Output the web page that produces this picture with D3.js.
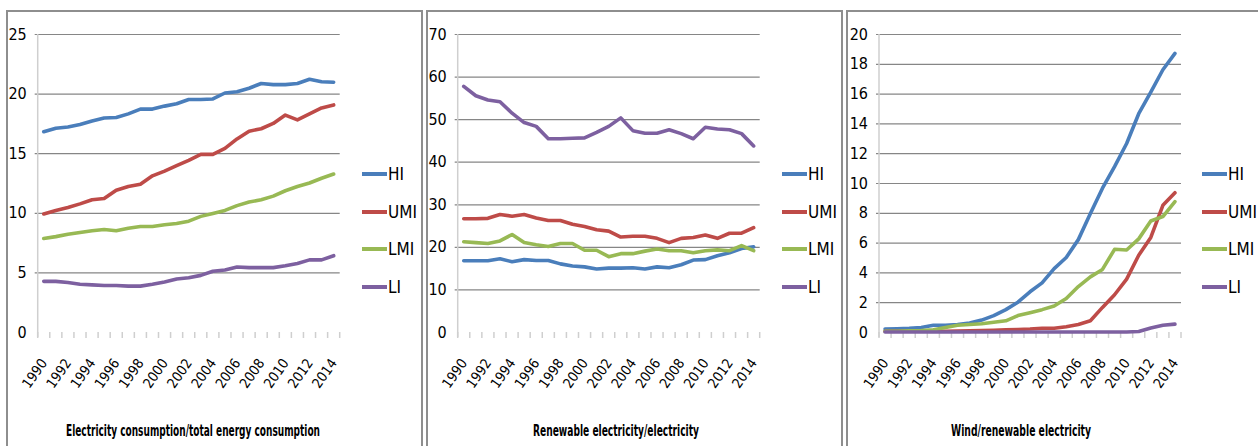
<!DOCTYPE html>
<html>
<head>
<meta charset="utf-8">
<script src="https://cdn.jsdelivr.net/npm/d3@7/dist/d3.min.js"></script>
<style>
  body { margin: 0; background: #fff; }
  svg { display: block; }
  text { font-family: "Liberation Sans Narrow", "Arial Narrow", "DejaVu Sans Condensed", sans-serif; fill: #000; }
  .frame { fill: none; stroke: #8e8e8e; stroke-width: 2; }
  .grid line { stroke: #868686; stroke-width: 1.2; }
  .yaxis-line { stroke: #cfcfcf; stroke-width: 1.5; }
  .xtick { stroke: #cfcfcf; stroke-width: 1.5; }
  .series { fill: none; stroke-width: 3.6; stroke-linejoin: round; stroke-linecap: round; }
  .title { font-weight: bold; font-size: 16px; }
</style>
</head>
<body>
<div id="chart"></div>
<script>
var years = [1990, 1991, 1992, 1993, 1994, 1995, 1996, 1997, 1998, 1999, 2000, 2001, 2002,
  2003, 2004, 2005, 2006, 2007, 2008, 2009, 2010, 2011, 2012, 2013, 2014]
var tickYears = [1990, 1992, 1994, 1996, 1998, 2000, 2002, 2004, 2006, 2008, 2010, 2012, 2014]
var groups = ['HI', 'UMI', 'LMI', 'LI']

// Electricity consumption / total energy consumption
var elecHI = [16.8, 17.1, 17.2, 17.4, 17.7, 17.95, 18.0, 18.3, 18.7, 18.7, 18.95, 19.15, 19.5,
  19.5, 19.55, 20.05, 20.15, 20.45, 20.85, 20.75, 20.75, 20.85, 21.2, 21.0, 20.95]
var elecUMI = [9.9, 10.2, 10.45, 10.75, 11.1, 11.2, 11.9, 12.2, 12.4, 13.1, 13.5, 13.95, 14.4,
  14.9, 14.9, 15.4, 16.2, 16.85, 17.05, 17.5, 18.2, 17.8, 18.3, 18.8, 19.05]
var elecLMI = [7.85, 8.0, 8.2, 8.35, 8.5, 8.6, 8.5, 8.7, 8.85, 8.85, 9.0, 9.1, 9.3,
  9.7, 9.95, 10.2, 10.6, 10.9, 11.1, 11.4, 11.85, 12.2, 12.5, 12.9, 13.25]
var elecLI = [4.25, 4.25, 4.15, 4.0, 3.95, 3.9, 3.9, 3.85, 3.85, 4.0, 4.2, 4.45, 4.55,
  4.75, 5.1, 5.2, 5.45, 5.4, 5.4, 5.4, 5.55, 5.75, 6.05, 6.05, 6.4]

// Renewable electricity / electricity
var renHI = [16.75, 16.75, 16.75, 17.2, 16.5, 17.0, 16.8, 16.8, 16.0, 15.5, 15.3, 14.8, 15.0,
  15.0, 15.1, 14.8, 15.3, 15.1, 15.8, 16.9, 17.0, 17.9, 18.6, 19.6, 20.0]
var renUMI = [26.6, 26.6, 26.7, 27.6, 27.2, 27.6, 26.8, 26.2, 26.2, 25.3, 24.8, 24.0, 23.7,
  22.3, 22.5, 22.5, 22.0, 21.0, 22.0, 22.2, 22.8, 22.0, 23.2, 23.2, 24.5]
var renLMI = [21.2, 21.0, 20.8, 21.4, 22.9, 21.0, 20.5, 20.1, 20.8, 20.8, 19.2, 19.2, 17.7,
  18.4, 18.4, 19.0, 19.5, 19.1, 19.1, 18.6, 19.1, 19.3, 19.1, 20.3, 19.1]
var renLI = [57.7, 55.5, 54.5, 54.1, 51.4, 49.2, 48.3, 45.4, 45.4, 45.5, 45.6, 46.9, 48.3,
  50.3, 47.3, 46.7, 46.7, 47.5, 46.6, 45.4, 48.1, 47.7, 47.5, 46.6, 43.7]

// Wind / renewable electricity
var windHI = [0.2, 0.22, 0.25, 0.3, 0.45, 0.45, 0.5, 0.6, 0.8, 1.1, 1.5, 2.0, 2.7,
  3.3, 4.25, 5.0, 6.2, 7.95, 9.65, 11.1, 12.65, 14.65, 16.1, 17.6, 18.7]
var windUMI = [0.05, 0.05, 0.05, 0.05, 0.05, 0.05, 0.06, 0.08, 0.1, 0.12, 0.15, 0.17, 0.2,
  0.25, 0.25, 0.35, 0.5, 0.75, 1.65, 2.5, 3.55, 5.15, 6.35, 8.5, 9.35]
var windLMI = [0.05, 0.05, 0.08, 0.1, 0.15, 0.3, 0.45, 0.5, 0.55, 0.65, 0.75, 1.1, 1.3,
  1.5, 1.75, 2.25, 3.05, 3.7, 4.2, 5.55, 5.5, 6.25, 7.45, 7.75, 8.75]
var windLI = [0, 0, 0, 0, 0, 0, 0, 0, 0, 0, 0, 0, 0,
  0, 0, 0, 0, 0, 0, 0, 0, 0.03, 0.27, 0.45, 0.53]

var elecTicks = [0, 5, 10, 15, 20, 25]
var renTicks = [0, 10, 20, 30, 40, 50, 60, 70]
var windTicks = [0, 2, 4, 6, 8, 10, 12, 14, 16, 18, 20]

var titles = ['Electricity consumption/total  energy consumption',
  'Renewable electricity/electricity', 'Wind/renewable electricity']

var colors = { HI: '#4a7ebb', UMI: '#be4b48', LMI: '#98b954', LI: '#7d60a0' }

var W = 1258, H = 446
var svg = d3.select('#chart').append('svg').attr('width', W).attr('height', H)

var panels = [
  { left: 7, axisX: 37.7, ticks: elecTicks, series: [elecHI, elecUMI, elecLMI, elecLI], title: titles[0], titleX: 193, titleW: 254 },
  { left: 427, axisX: 457.7, ticks: renTicks, series: [renHI, renUMI, renLMI, renLI], title: titles[1], titleX: 616, titleW: 166 },
  { left: 847, axisX: 879, ticks: windTicks, series: [windHI, windUMI, windLMI, windLI], title: titles[2], titleX: 1021, titleW: 140 }
]

var plotTop = 34, plotBottom = 332, plotW = 302

panels.forEach(drawPanel)

function drawPanel (p) {
  var g = svg.append('g')

  // panel frame
  g.append('rect')
    .attr('class', 'frame')
    .attr('x', p.left).attr('y', 11)
    .attr('width', 415).attr('height', H)

  var x = d3.scaleBand()
    .domain(years)
    .range([p.axisX, p.axisX + plotW])
  var y = d3.scaleLinear()
    .domain([0, d3.max(p.ticks)])
    .range([plotBottom, plotTop])
  var cx = function (d) { return x(d) + x.bandwidth() / 2 }

  // horizontal gridlines + labels
  var yAxis = d3.axisLeft(y)
    .tickValues(p.ticks)
    .tickSize(-plotW - 3)
    .tickPadding(8)
  var ga = g.append('g')
    .attr('class', 'grid')
    .attr('transform', 'translate(' + (p.axisX - 3) + ',0)')
    .call(yAxis)
  ga.select('.domain').remove()
  ga.selectAll('.tick')
    .filter(function (d) { return d === 0 })
    .select('line').remove()
  ga.selectAll('.tick text')
    .style('font-size', '16px')
    .attr('fill', '#000')

  g.append('line')
    .attr('class', 'yaxis-line')
    .attr('x1', p.axisX).attr('x2', p.axisX)
    .attr('y1', plotTop).attr('y2', plotBottom + 5)

  // category tick marks
  g.selectAll('.xtick')
    .data(years.concat(['end']))
    .enter().append('line')
    .attr('class', 'xtick')
    .attr('x1', function (d) { return d === 'end' ? p.axisX + plotW : x(d) })
    .attr('x2', function (d) { return d === 'end' ? p.axisX + plotW : x(d) })
    .attr('y1', plotBottom).attr('y2', plotBottom + 6)

  // rotated year labels
  g.selectAll('.xlabel')
    .data(tickYears)
    .enter().append('text')
    .attr('class', 'xlabel')
    .attr('text-anchor', 'end')
    .style('font-size', '14px')
    .attr('transform', function (d) {
      return 'translate(' + (cx(d) + 4) + ',' + 363 + ') rotate(-55)'
    })
    .text(function (d) { return d })

  // series lines
  var line = d3.line()
    .x(function (d, i) { return cx(years[i]) })
    .y(function (d) { return y(d) })

  p.series.forEach(function (values, i) {
    g.append('path')
      .datum(values)
      .attr('class', 'series')
      .attr('stroke', colors[groups[i]])
      .attr('d', line)
  })

  // legend
  var legend = g.append('g')
    .attr('transform', 'translate(' + (p.left + 355) + ',0)')
  var legendY = [174, 212, 249, 287]
  groups.forEach(function (name, i) {
    legend.append('line')
      .attr('x1', 0).attr('x2', 25)
      .attr('y1', legendY[i]).attr('y2', legendY[i])
      .attr('stroke', colors[name])
      .attr('stroke-width', 4)
    legend.append('text')
      .attr('x', 26)
      .attr('y', legendY[i])
      .attr('dy', '0.36em')
      .style('font-size', '17px')
      .text(name)
  })

  // title under chart
  g.append('text')
    .attr('class', 'title')
    .attr('x', p.titleX - p.titleW / 2)
    .attr('y', 436)
    .attr('textLength', p.titleW)
    .attr('lengthAdjust', 'spacingAndGlyphs')
    .text(p.title)
}
</script>
</body>
</html>
